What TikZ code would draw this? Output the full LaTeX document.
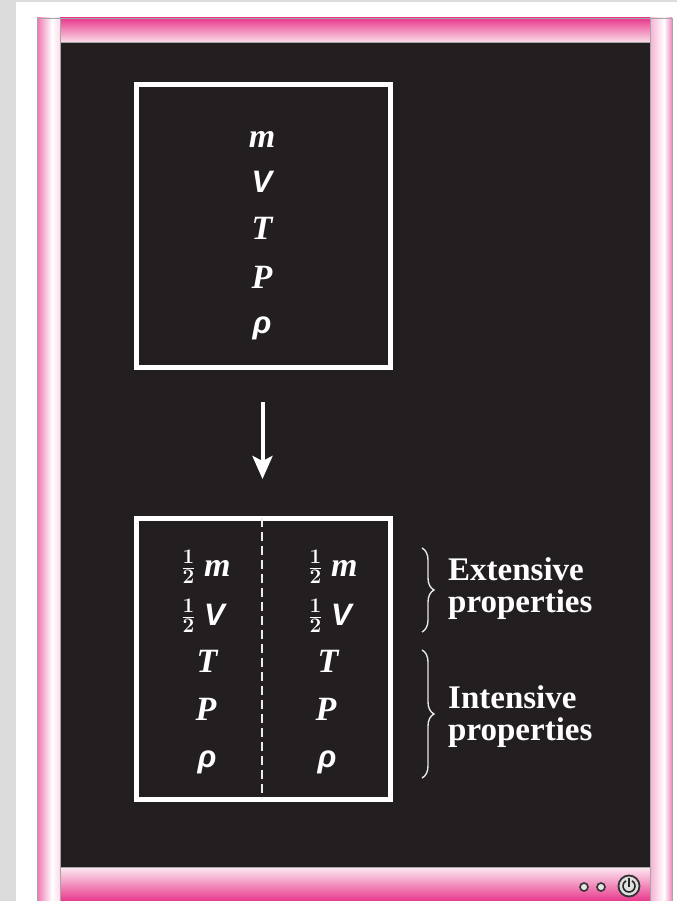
\documentclass[tikz,border=0pt]{standalone}
\usepackage{fontspec}
\setmainfont{Liberation Serif}
\newfontfamily\lsans{Liberation Sans}
\usetikzlibrary{arrows.meta,decorations.pathreplacing}
\definecolor{bgdark}{HTML}{231F20}
\definecolor{hotpink}{HTML}{E8388C}
\definecolor{palepink}{HTML}{FADCE9}
\definecolor{pagegray}{HTML}{DCDCDC}
\newcommand{\hlf}{\raisebox{2pt}{\fontsize{32}{32}\selectfont\boldmath$\frac{1}{2}$}}
\begin{document}
\begin{tikzpicture}[x=1pt,y=-1pt,
  var/.style={text=white,inner sep=0pt,anchor=base,font=\fontsize{34}{34}\selectfont\bfseries\itshape},
  svar/.style={text=white,inner sep=0pt,anchor=base,font=\fontsize{31}{31}\selectfont\lsans\bfseries\itshape},
  lbl/.style={text=white,inner sep=0pt,anchor=base west,align=left,font=\fontsize{33}{32}\selectfont\bfseries},
  whitebox/.style={draw=white,line width=5pt},
  brc/.style={draw=white!80!gray,line width=1.4pt,decorate,decoration={brace,amplitude=12pt}},
  dot/.style={circle,draw=black!80,line width=1.6pt,fill=gray!20,minimum size=8pt,inner sep=0pt}]
% page
\fill[pagegray] (0,0) rectangle (677,901);
\fill[white] (16,2) rectangle (677,901);
\useasboundingbox (0,0) rectangle (677,901);
% frame
\fill[bgdark] (60,42) rectangle (650,867);
\shade[top color=hotpink,bottom color=palepink] (60,18) rectangle (650,42);
\draw[gray!70,line width=0.6pt] (60,18) rectangle (650,42);
\shade[top color=palepink!60!white,bottom color=hotpink] (60,867) rectangle (650,901);
\draw[gray!70,line width=0.6pt] (60,867) -- (650,867);
\shade[left color=hotpink!70,right color=white] (37,18) rectangle (52,901);
\shade[left color=white,right color=palepink] (52,18) rectangle (60,901);
\shade[left color=hotpink!40,right color=white] (650,18) rectangle (664,901);
\shade[left color=white,right color=hotpink!60] (664,18) rectangle (672,901);
\draw[gray!70,line width=0.6pt] (37,901) -- (37,18) -- (672,18) -- (672,901);
\draw[gray!70,line width=0.6pt] (60,18) -- (60,901) (650,18) -- (650,901);
% top box
\draw[whitebox] (136,85) rectangle (390,367);
\node[var]  (m0) at (262,148) {m};
\node[svar] (v0) at (262,193) {V};
\node[var]  (t0) at (262,240) {T};
\node[var]  (p0) at (262,288) {P};
\node[svar] (r0) at (262,333) {ρ};
% arrow
\coordinate (a1) at (262.5,402);
\coordinate (a2) at (262.5,479);
\draw[white,line width=4pt,-{Stealth[length=23pt,width=20pt,inset=5pt]}] (a1) -- (a2);
% bottom box
\draw[whitebox] (136,518) rectangle (390,799);
\coordinate (d1) at (262,518);
\coordinate (d2) at (262,799);
\draw[white!85!gray,line width=2pt,dash pattern=on 9pt off 5pt] (d1) -- (d2);
\node[var]  (m1) at (206,576) {\hlf\ m};
\node[svar] (v1) at (203,625) {\hlf\ {\lsans V}};
\node[var]  (t1) at (207,672) {T};
\node[var]  (p1) at (206,720) {P};
\node[svar] (r1) at (207,767) {ρ};
\node[var]  (m2) at (333,576) {\hlf\ m};
\node[svar] (v2) at (330,625) {\hlf\ {\lsans V}};
\node[var]  (t2) at (328,672) {T};
\node[var]  (p2) at (326,720) {P};
\node[svar] (r2) at (327,767) {ρ};
% braces
\coordinate (b1) at (422,548);
\coordinate (b2) at (422,632);
\coordinate (b3) at (422,650);
\coordinate (b4) at (422,778);
\draw[brc] (b1) -- (b2);
\draw[brc] (b3) -- (b4);
\node[lbl] (ext) at (448,612) {Extensive\\properties};
\node[lbl] (int) at (448,740) {Intensive\\properties};
% icons
\node[dot] (i1) at (584,887) {};
\node[dot] (i2) at (601,887) {};
\node[circle,draw=black!80,line width=1.8pt,fill=gray!25,minimum size=21pt,inner sep=0pt] (pw) at (629,886) {};
\draw[black!85,line width=1.6pt] ([shift={(3,-5.2)}]pw.center) arc[start angle=60,end angle=-240,radius=6pt];
\draw[black!85,line width=1.6pt] ([shift={(0,-8)}]pw.center) -- ([shift={(0,1)}]pw.center);
\end{tikzpicture}
\end{document}
